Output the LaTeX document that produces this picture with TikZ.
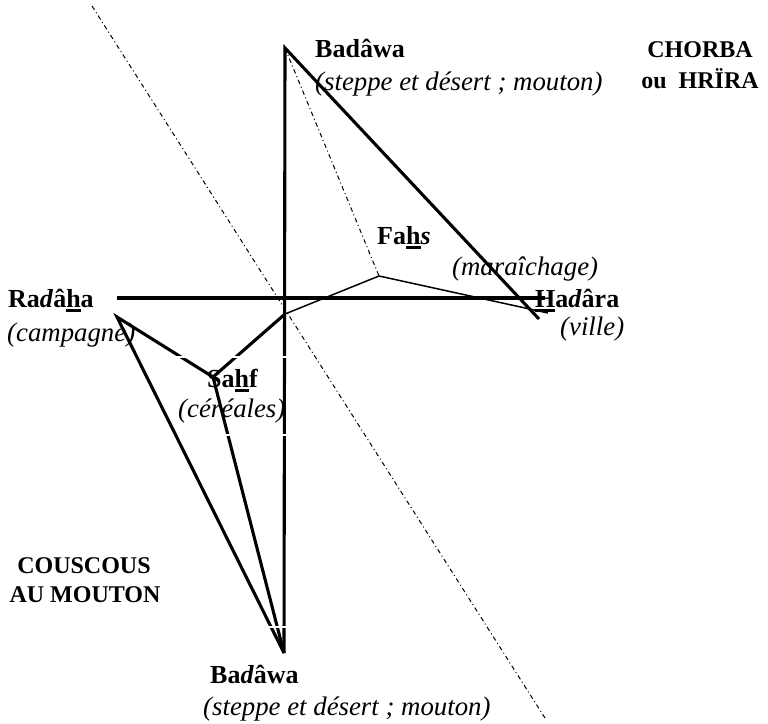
\documentclass[tikz,border=0pt]{standalone}
\usepackage{fontspec}
\setmainfont{Liberation Serif}
\newcommand\uln[1]{\setbox0=\hbox{#1}\rlap{\rule[-4.6pt]{\wd0}{2.8pt}}\box0}
\begin{document}
\begin{tikzpicture}[x=1pt,y=-1pt,
  heavy/.style={line width=3.1pt},
  light/.style={line width=1.5pt},
  dd/.style={line width=1pt, dash pattern=on 4.5pt off 3pt on 1pt off 3pt},
  gapline/.style={white, line width=1.3pt},
  lbl/.style={inner sep=0pt, anchor=base west, font=\fontsize{26}{30}\selectfont\bfseries},
  sub/.style={inner sep=0pt, anchor=base west, font=\fontsize{26.8}{30}\selectfont\itshape},
  dish/.style={inner sep=0pt, anchor=base, font=\fontsize{24}{28}\selectfont\bfseries},
]
\useasboundingbox (0,0) rectangle (768,723);

% vertices
\coordinate (T) at (285,48);
\coordinate (B) at (284,653);
\coordinate (R) at (117,317);
\coordinate (S) at (213,377);
\coordinate (F) at (379,276);
\coordinate (H) at (539,319);
\coordinate (Ht) at (548,313);
\coordinate (O) at (285,314);
\coordinate (HL) at (117,298);
\coordinate (HR) at (545,298);
\coordinate (D1) at (92,6);
\coordinate (D2) at (545,718);

% dash-dot lines
\draw[dd] (D1) -- (D2);
\draw[dd] (T) -- (F);

% thin lines
\draw[light] (O) -- (F) -- (Ht);

% thick lines
\draw[heavy, line join=miter] (B) -- (T) -- (H);
\draw[heavy] (HL) -- (HR);
\draw[heavy] (O) -- (S);
\draw[heavy, line join=miter] (S) -- (R) -- (B);
\draw[heavy] (S) -- (B);

% white frame traces across the lines
\draw[gapline] (170,357) -- (296,357);
\draw[gapline] (205,435) -- (296,435);
\draw[gapline] (255,627) -- (300,627);

% labels
\node[lbl] (bt) at (315,57) {Badâwa};
\node[sub] (bts) at (315,90) {(steppe et désert ; mouton)};
\node[dish] (ch1) at (700,57) {CHORBA};
\node[dish] (ch2) at (700,88) {ou\ \ HRÏRA};
\node[lbl] (fa) at (377,244) {Fa\uln{h}\textit{s}};
\node[sub] (fas) at (452,275) {(maraîchage)};
\node[lbl] (ra) at (8,307) {Ra\textit{d}â\uln{h}a};
\node[sub] (ras) at (7,341) {(campagne)};
\node[lbl] (sa) at (207,387) {Sa\uln{h}f};
\node[sub] (sas) at (178,417) {(céréales)};
\node[lbl] (ha) at (535,307) {\uln{H}a\textit{d}âra};
\node[sub] (has) at (560,335) {(ville)};
\node[dish] (co1) at (84,573) {COUSCOUS};
\node[dish] (co2) at (85,602) {AU MOUTON};
\node[lbl] (bb) at (210,683) {Ba\textit{d}âwa};
\node[sub] (bbs) at (203,715) {(steppe et désert ; mouton)};
\end{tikzpicture}
\end{document}
